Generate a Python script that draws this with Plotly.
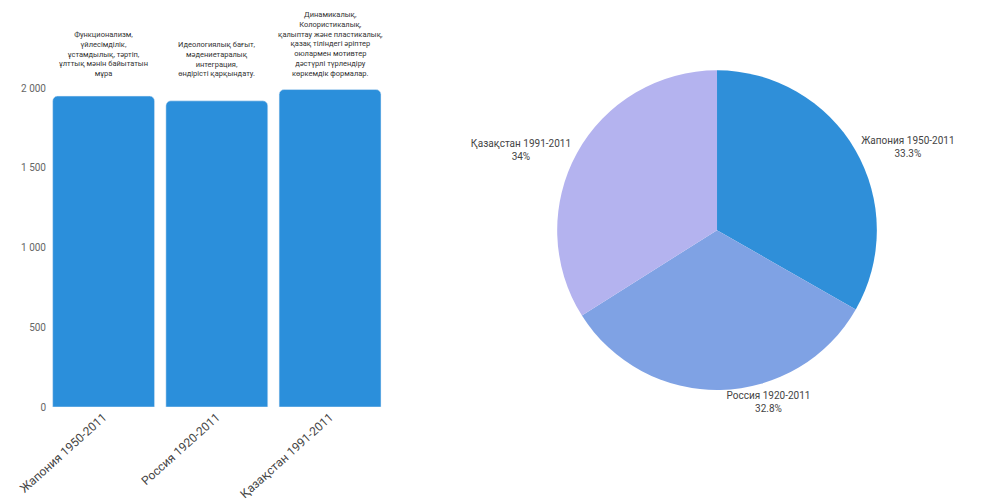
import plotly.graph_objects as go

# data
countries = ["Жапония 1950-2011", "Россия 1920-2011", "Қазақстан 1991-2011"]
years = [1950, 1920, 1991]
notes = [
    "Функционализм,<br>үйлесімділік,<br>ұстамдылық, тәртіп,<br>ұлттық мәнін байытатын<br>мұра",
    "Идеологиялық бағыт,<br>мәдениетаралық<br>интеграция,<br>өндірісті қарқындату.",
    "Динамикалық,<br>Колористикалық,<br>қалыптау және пластикалық,<br>қазақ тіліндегі әріптер<br>оюлармен мотивтер<br>дәстүрлі түрлендіру<br>көркемдік формалар.",
]
y_ticks = [0, 500, 1000, 1500, 2000]
pie_colors = ["#2f8fd9", "#7fa2e4", "#b4b3ef"]

fig = go.Figure()

fig.add_trace(
    go.Bar(
        x=countries,
        y=years,
        marker=dict(color="#2b8fdb", cornerradius=5),
        showlegend=False,
        xaxis="x",
        yaxis="y",
    )
)

fig.add_trace(
    go.Pie(
        labels=countries,
        values=years,
        sort=False,
        direction="clockwise",
        rotation=0,
        marker=dict(colors=pie_colors),
        textinfo="label+percent",
        textposition="outside",
        textfont=dict(size=10, color="#444444"),
        domain=dict(x=[0.5, 0.944], y=[0.044, 0.870]),
        automargin=False,
        showlegend=False,
        hoverinfo="label+value+percent",
    )
)

for cat, note in zip(countries, notes):
    fig.add_annotation(
        x=cat,
        y=2000,
        xref="x",
        yref="y",
        text=note,
        showarrow=False,
        yanchor="bottom",
        yshift=8,
        font=dict(size=7.5, color="#333333"),
        align="center",
    )

fig.update_layout(
    width=985,
    height=500,
    paper_bgcolor="white",
    plot_bgcolor="white",
    separators=". ",
    font=dict(family="Roboto, Arial, sans-serif", color="#555555"),
    margin=dict(l=39, r=18, t=12, b=101),
    bargap=0.1,
    xaxis=dict(
        domain=[0, 0.366],
        tickangle=-42,
        tickfont=dict(size=12, color="#444444"),
        showgrid=False,
        showline=False,
        ticks="",
        automargin=False,
    ),
    yaxis=dict(
        domain=[0, 0.824],
        range=[0, 2000],
        tickvals=y_ticks,
        tickformat=",d",
        showgrid=False,
        zeroline=False,
        tickfont=dict(size=10, color="#666666"),
        ticks="",
        automargin=False,
    ),
)

fig.write_html("out.html")
